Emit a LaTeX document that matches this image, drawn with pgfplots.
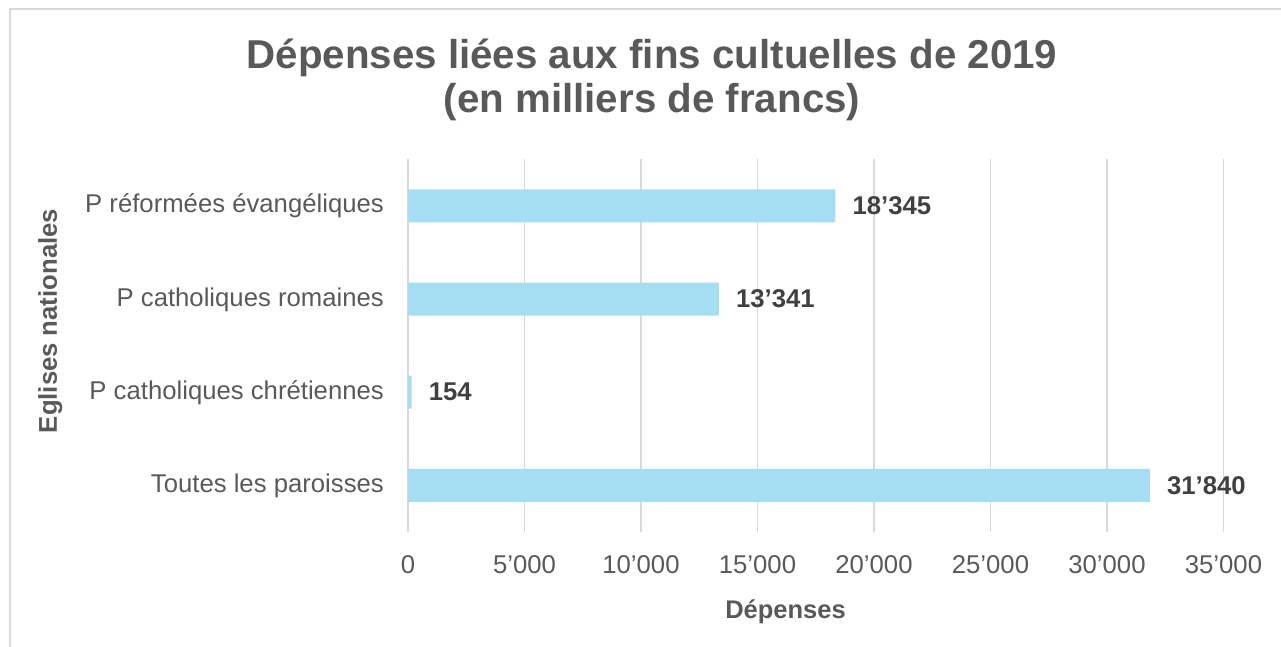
\documentclass[border=0pt]{standalone}
\usepackage{fontspec}
\setmainfont{Liberation Sans}
\usepackage{pgfplots}
\pgfplotsset{compat=1.18}
\definecolor{barblue}{HTML}{A5DEF2}
\definecolor{gridgray}{HTML}{D9D9D9}
\definecolor{txtgray}{HTML}{595959}
\definecolor{lblgray}{HTML}{404040}
\begin{document}
\begin{tikzpicture}
\path[use as bounding box] (-408pt,-114pt) rectangle (873pt,532pt);
\draw[gridgray, line width=1.5pt] (-398pt,-130pt) -- (-398pt,523pt) -- (890pt,523pt);
\begin{axis}[
  at={(0pt,0pt)}, anchor=south west,
  scale only axis, width=815.5pt, height=372.7pt,
  xmin=0, xmax=35000, ymin=-0.5, ymax=3.5,
  y dir=reverse,
  enlargelimits=false,
  scaled x ticks=false,
  axis line style={draw=none},
  tick style={draw=none},
  xmajorgrids, major grid style={gridgray, line width=1.3pt},
  xtick={0,5000,10000,15000,20000,25000,30000,35000},
  xticklabels={0,5’000,10’000,15’000,20’000,25’000,30’000,35’000},
  ytick={0,1,2,3},
  yticklabels={P réformées évangéliques,P catholiques romaines,P catholiques chrétiennes,Toutes les paroisses},
  /pgf/number format/assume math mode=true,
  xticklabel style={anchor=base, inner sep=0pt, yshift=-41pt, font=\fontsize{25.7}{30}\selectfont, text=txtgray},
  yticklabel style={anchor=base east, inner sep=0pt, xshift=-24pt, yshift=-7pt, font=\fontsize{25.7}{30}\selectfont, text=txtgray},
  point meta=explicit symbolic,
  clip=false,
]
\addplot[xbar, fill=barblue, draw=none, bar width=33pt,
  nodes near coords={\pgfplotspointmeta},
  nodes near coords style={anchor=west, inner sep=0pt, xshift=17pt, font=\fontsize{25.7}{30}\selectfont\bfseries, text=lblgray}]
  coordinates {(18345,0) [18’345] (13341,1) [13’341] (154,2) [154] (31840,3) [31’840]};
\end{axis}
\node[anchor=base, text=txtgray, font=\fontsize{40.3}{48}\selectfont\bfseries] at (244pt,463pt) {Dépenses liées aux fins cultuelles de 2019};
\node[anchor=base, text=txtgray, font=\fontsize{40.3}{48}\selectfont\bfseries] at (244pt,419pt) {(en milliers de francs)};
\node[anchor=base, text=txtgray, font=\fontsize{25.5}{30}\selectfont\bfseries] at (377.5pt,-86pt) {Dépenses};
\node[anchor=base, rotate=90, text=txtgray, font=\fontsize{25.7}{30}\selectfont\bfseries] at (-351pt,211pt) {Eglises nationales};
\end{tikzpicture}
\end{document}
